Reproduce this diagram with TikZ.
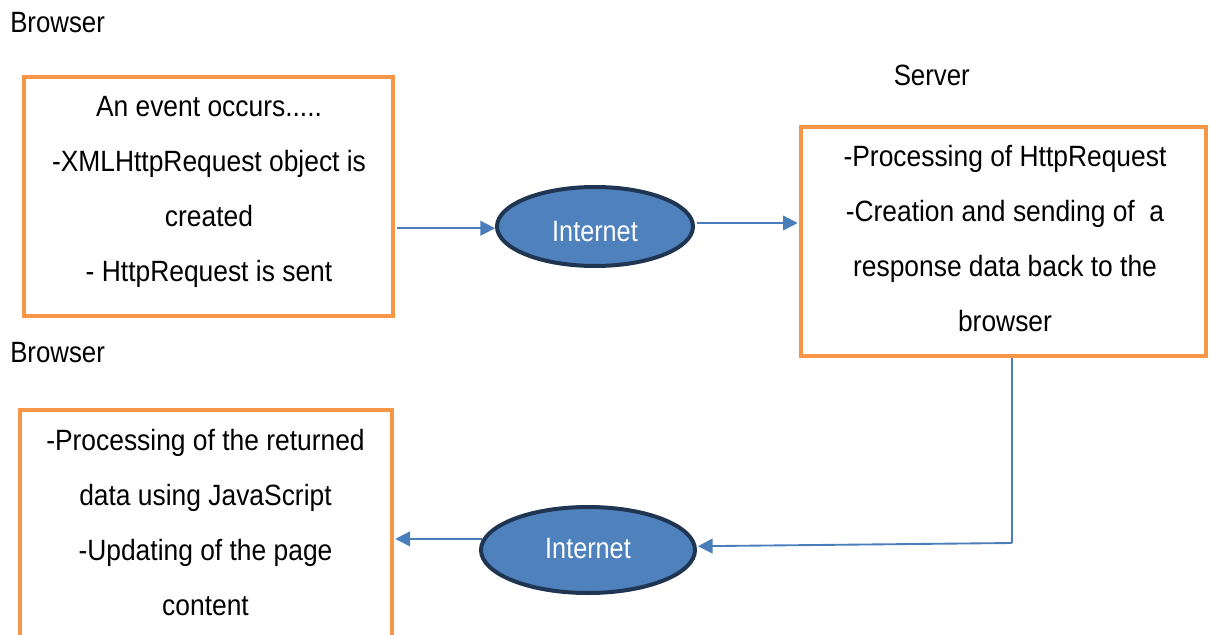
\documentclass[tikz,border=0pt]{standalone}
\usepackage{fontspec}
\setmainfont{Liberation Sans}
\newfontfamily\boxfont[FakeStretch=0.9]{Liberation Sans}
\newfontfamily\tagfont[FakeStretch=0.88]{Liberation Sans}
\newfontfamily\netfont[FakeStretch=0.86]{Liberation Sans}
\usetikzlibrary{shapes.geometric,arrows.meta}
\definecolor{boxorange}{HTML}{F79646}
\definecolor{linkblue}{HTML}{4A7EBB}
\definecolor{netfill}{HTML}{4F81BD}
\definecolor{netedge}{HTML}{1F3552}
\tikzset{
  stepbox/.style={draw=boxorange, line width=3pt, rectangle, fill=white, inner sep=0pt},
  steptext/.style={align=center, inner sep=0pt, font=\boxfont\fontsize{22}{41.25}\selectfont},
  netnode/.style={ellipse, draw=netedge, fill=netfill, line width=3pt, inner sep=0pt,
    text=white, text depth=0pt, font=\netfont\fontsize{22}{26}\selectfont},
  tag/.style={inner sep=0pt, font=\tagfont\fontsize{22}{26}\selectfont},
  flow/.style={draw=linkblue, line width=1.4pt, -{Triangle[length=11pt,width=11pt]}},
  wire/.style={draw=linkblue, line width=1.4pt}
}
\begin{document}
\begin{tikzpicture}[x=0.75pt,y=-0.75pt]
\useasboundingbox (0,0) rectangle (1211,635);

% section labels
\node[tag, anchor=west] (lb1) at (10,23) {Browser};
\node[tag, anchor=west] (ls) at (893.5,75) {Server};
\node[tag, anchor=west] (lb2) at (10,353) {Browser};

% browser: request side
\node[stepbox, minimum width=369*0.75pt, minimum height=239*0.75pt] (b1) at (208.5,196.5) {};
\node[steptext] (t1) at (209,191.8) {An event occurs.....\\-XMLHttpRequest object is\\created\\- HttpRequest is sent};

% server
\node[stepbox, minimum width=405*0.75pt, minimum height=229*0.75pt] (b2) at (1003.5,241.5) {};
\node[steptext] (t2) at (1005,238.5) {-Processing of HttpRequest\\-Creation and sending of\ \ a\\response data back to the\\browser};

% browser: response side
\node[stepbox, minimum width=372*0.75pt, minimum height=252*0.75pt] (b3) at (206,536) {};
\node[steptext] (t3) at (205.5,522.5) {-Processing of the returned\\data using JavaScript\\-Updating of the page\\content};

% internet
\node[netnode, text height=22.5pt, minimum width=196*0.75pt, minimum height=79*0.75pt] (e1) at (595,226.5) {Internet};
\node[netnode, text height=12.3pt, minimum width=214*0.75pt, minimum height=86*0.75pt] (e2) at (588,550) {Internet};

% connectors
\coordinate (turn) at (1012,543);
\draw[flow] ([xshift=1.5pt]b1.east |- e1.181.5) -- (e1.181.5);
\draw[flow] ([xshift=2pt]e1.2.7) -- ([xshift=-1pt]e1.2.7 -| b2.west);
\draw[wire] (b2.south -| turn) -- (turn);
\draw[flow] (turn) -- ([xshift=1pt]e2.2);
\draw[flow] (e2.174) -- ([xshift=1pt]e2.174 -| b3.east);
\end{tikzpicture}
\end{document}
